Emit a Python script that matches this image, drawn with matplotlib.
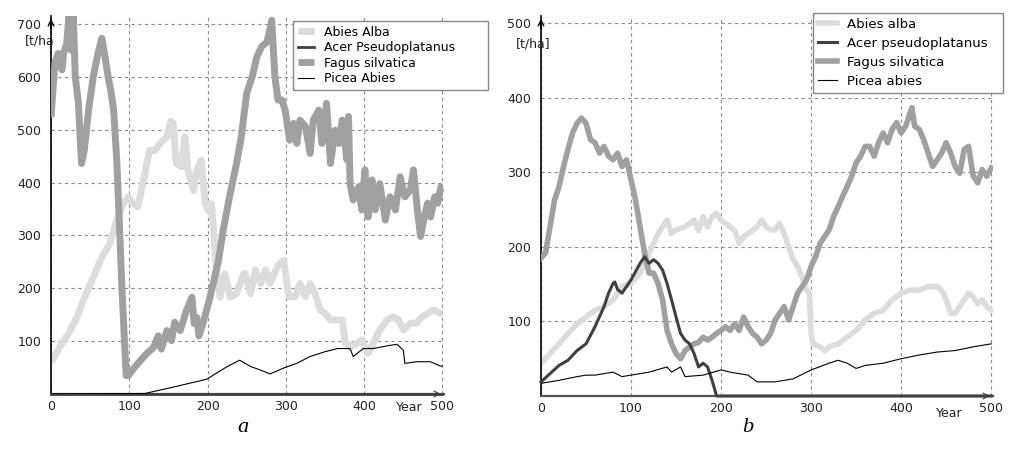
import numpy as np
import matplotlib.pyplot as plt

# ---- panel a ----
a_abies_x = [0, 11, 22, 33, 43, 54, 65, 75, 84, 92, 99, 105, 111, 118, 126, 133, 139, 148, 153, 156, 160, 167, 171, 175,
             182, 186, 192, 197, 201, 205, 209, 211, 216, 222, 229, 237, 246, 248, 255, 261, 268, 274, 280, 289, 297,
             304, 312, 318, 325, 331, 337, 344, 350, 357, 366, 372, 376, 382, 391, 397, 405, 412, 420, 429, 437, 444,
             450, 459, 467, 474, 482, 488, 497, 500]
a_abies_y = [60, 88, 114, 145, 183, 221, 259, 284, 328, 360, 373, 360, 354, 404, 461, 461, 474, 486, 516, 512, 436, 430,
             486, 423, 385, 423, 442, 360, 347, 360, 284, 240, 183, 227, 183, 190, 227, 228, 190, 235, 209, 235, 209,
             241, 253, 184, 184, 209, 184, 209, 190, 159, 153, 140, 140, 140, 96, 89, 96, 102, 77, 96, 121, 140, 146,
             140, 121, 134, 134, 146, 153, 159, 153, 152]

a_fagus_x = [0, 5, 9, 14, 16, 20, 23, 26, 28.5, 31, 35, 39, 42.5, 48, 54, 60, 65, 69, 73, 77, 80, 84, 87, 90, 93, 96,
             99, 105, 114, 122, 131, 137, 141, 148, 154, 158, 165, 173, 180, 183, 186, 189, 194, 201, 207, 214, 220,
             228, 237, 243, 250, 257, 263, 269, 276, 282, 286, 290, 295, 299, 305, 310, 314, 318, 325, 331, 335, 342,
             346, 352, 357, 363, 368, 372, 378, 380, 382, 386, 393, 397, 401, 405, 410, 414, 420, 427, 433, 440, 446,
             452, 459, 463, 468, 472, 477, 481, 485, 490, 494, 498, 500]
a_fagus_y = [524, 625, 644, 613, 644, 663, 714, 650, 714, 600, 550, 436, 461, 537, 600, 644, 673, 638, 600, 569, 537,
             442, 335, 221, 126, 35, 35, 47, 63, 76, 88, 110, 85, 120, 101, 136, 120, 158, 183, 133, 145, 110, 133,
             171, 208, 253, 310, 373, 436, 486, 569, 600, 638, 657, 666, 707, 600, 556, 556, 537, 480, 512, 474, 518,
             506, 455, 518, 537, 474, 550, 436, 499, 474, 518, 443, 525, 398, 367, 392, 348, 424, 335, 405, 348, 398,
             329, 373, 348, 411, 373, 386, 424, 348, 298, 335, 361, 335, 373, 361, 392, 392]

a_acer_x = [0, 500]
a_acer_y = [0, 0]

a_picea_x = [0, 120, 156, 199, 224, 241, 255, 268, 280, 297, 314, 331, 350, 366, 382, 386, 399, 412, 429, 442, 450,
             452, 467, 485, 497, 500]
a_picea_y = [0, 1, 13, 28, 51, 64, 52, 45, 38, 49, 58, 71, 80, 86, 86, 71, 86, 86, 91, 94, 83, 58, 61, 61, 53, 53]

# ---- panel b ----
b_abies_x = [0, 10, 20, 30, 40, 50, 60, 70, 80, 90, 100, 110, 120, 130, 140, 145, 150, 160, 170, 175, 180, 185, 190,
             195, 200, 210, 215, 220, 225, 230, 240, 245, 250, 255, 260, 265, 270, 275, 280, 285, 290, 295, 298, 300,
             302, 310, 315, 320, 330, 340, 350, 360, 370, 380, 390, 400, 410, 420, 430, 440, 445, 450, 455, 460, 465,
             470, 475, 480, 485, 490, 495, 500]
b_abies_y = [44, 57, 70, 84, 97, 106, 115, 120, 129, 147, 151, 165, 192, 218, 236, 218, 223, 227, 236, 222, 241, 227,
             241, 245, 236, 227, 222, 205, 214, 218, 227, 236, 227, 223, 223, 232, 218, 200, 183, 174, 160, 142, 138,
             84, 70, 66, 61, 66, 70, 79, 88, 102, 111, 115, 129, 138, 142, 142, 147, 147, 142, 129, 111, 111, 120, 129,
             138, 133, 124, 129, 120, 115]

b_acer_x = [0, 10, 20, 30, 40, 50, 60, 70, 75, 80, 82, 85, 90, 95, 100, 110, 115, 120, 125, 130, 135, 140, 145, 150,
            155, 160, 165, 170, 175, 180, 185, 190, 195, 500]
b_acer_y = [19, 30, 41, 48, 61, 70, 93, 120, 138, 151, 153, 143, 138, 147, 156, 178, 187, 178, 183, 178, 169, 151, 129,
            106, 84, 75, 70, 57, 39, 44, 39, 21, 0, 0]

b_fagus_x = [0, 5, 10, 15, 20, 25, 30, 35, 40, 45, 50, 55, 60, 65, 70, 75, 80, 85, 90, 95, 100, 105, 110, 115, 120,
             125, 130, 135, 140, 145, 150, 155, 160, 165, 170, 175, 180, 185, 190, 195, 200, 205, 210, 215, 220, 225,
             230, 235, 240, 245, 250, 255, 260, 265, 270, 275, 280, 285, 290, 295, 300, 305, 310, 315, 320, 325, 330,
             335, 340, 345, 350, 355, 360, 365, 370, 375, 380, 385, 390, 395, 400, 405, 410, 412, 415, 420, 425, 430,
             435, 440, 445, 450, 455, 460, 465, 470, 475, 480, 485, 490, 495, 500]
b_fagus_y = [185, 192, 227, 263, 281, 308, 331, 353, 366, 373, 366, 344, 340, 326, 335, 322, 317, 326, 308, 317, 290,
             263, 227, 192, 165, 165, 151, 129, 88, 70, 57, 50, 61, 66, 70, 72, 79, 75, 79, 84, 88, 93, 88, 97, 88,
             106, 93, 84, 79, 70, 75, 84, 102, 111, 120, 102, 120, 138, 147, 156, 174, 187, 205, 214, 223, 241, 254,
             268, 281, 295, 313, 322, 335, 335, 322, 340, 353, 340, 358, 367, 353, 362, 380, 387, 362, 358, 344, 326,
             308, 317, 326, 340, 326, 308, 299, 331, 335, 295, 286, 304, 295, 306]

b_picea_x = [0, 20, 40, 50, 60, 80, 90, 100, 120, 140, 145, 155, 160, 180, 200, 210, 230, 240, 260, 280, 300, 320, 330,
             340, 350, 360, 380, 400, 420, 440, 460, 480, 500]
b_picea_y = [17, 21, 26, 28, 28, 32, 26, 28, 32, 39, 32, 39, 26, 28, 35, 32, 28, 19, 19, 23, 35, 44, 48, 44, 37, 41,
             44, 50, 55, 59, 61, 66, 70]

labels_a = ['Abies Alba', 'Acer Pseudoplatanus', 'Fagus silvatica', 'Picea Abies']
labels_b = ['Abies alba', 'Acer pseudoplatanus', 'Fagus silvatica', 'Picea abies']

c_abies, c_acer, c_fagus, c_picea = '#dcdcdc', '#404040', '#a0a0a0', '#000000'

fig = plt.figure(figsize=(10.1, 4.5), dpi=100)
ax1 = fig.add_axes([51/1010, 1-394/450, 393/1010, 378/450])
ax2 = fig.add_axes([541/1010, 1-396/450, 452/1010, 380/450])


def style(ax, ymax, yticks):
    ax.set_xlim(0, 502)
    ax.set_ylim(0, ymax)
    ax.set_xticks([0, 100, 200, 300, 400, 500])
    ax.set_yticks(yticks)
    ax.grid(True, color='#8c8c8c', linestyle=(0, (3, 3)), linewidth=0.8)
    ax.set_axisbelow(True)
    for s in ['top', 'right']:
        ax.spines[s].set_visible(False)
    ax.spines['left'].set_color('black')
    ax.spines['left'].set_linewidth(1.2)
    ax.spines['bottom'].set_color('#555555')
    ax.spines['bottom'].set_linewidth(1.6)
    ax.tick_params(length=0, labelsize=9, colors='#222222')
    ax.tick_params(axis='y', pad=7)
    ax.tick_params(axis='x', pad=4)
    ax.annotate('', xy=(0, 1.0), xycoords='axes fraction', xytext=(0, 0.96),
                arrowprops=dict(arrowstyle='->', color='black', lw=1.0))
    ax.annotate('', xy=(1.0, 0), xycoords='axes fraction', xytext=(0.985, 0),
                arrowprops=dict(arrowstyle='->', color='#555555', lw=1.0))


style(ax1, 715, [100, 200, 300, 400, 500, 600, 700])
style(ax2, 510, [100, 200, 300, 400, 500])

ax1.plot(a_abies_x, a_abies_y, color=c_abies, lw=5, zorder=2, label=labels_a[0], solid_capstyle='butt')
ax1.plot(a_acer_x, a_acer_y, color=c_acer, lw=2, zorder=4, label=labels_a[1], clip_on=False)
ax1.plot(a_fagus_x, a_fagus_y, color=c_fagus, lw=5, zorder=3, label=labels_a[2], solid_capstyle='butt')
ax1.plot(a_picea_x, a_picea_y, color=c_picea, lw=0.8, zorder=5, label=labels_a[3])

ax2.plot(b_abies_x, b_abies_y, color=c_abies, lw=4, zorder=2, label=labels_b[0])
ax2.plot(b_acer_x, b_acer_y, color=c_acer, lw=2.2, zorder=4, label=labels_b[1], clip_on=False)
ax2.plot(b_fagus_x, b_fagus_y, color=c_fagus, lw=4, zorder=3, label=labels_b[2])
ax2.plot(b_picea_x, b_picea_y, color=c_picea, lw=0.8, zorder=5, label=labels_b[3])

leg1 = ax1.legend(loc='upper left', bbox_to_anchor=(293/1010, 1-21/450, 195/1010, 0.001),
                  bbox_transform=fig.transFigure, mode='expand',
                  fontsize=9, labelspacing=0.2, handlelength=1.3, handletextpad=0.8, borderpad=0.4,
                  fancybox=False, framealpha=1, edgecolor='#888888', borderaxespad=0)
leg2 = ax2.legend(loc='upper left', bbox_to_anchor=(813/1010, 1-13/450, 190/1010, 0.001),
                  bbox_transform=fig.transFigure, mode='expand',
                  fontsize=9.5, labelspacing=0.45, handlelength=1.4, handletextpad=0.8, borderpad=0.4,
                  fancybox=False, framealpha=1, edgecolor='#888888', borderaxespad=0)
for leg in (leg1, leg2):
    leg.get_frame().set_linewidth(1.0)
    leg.set_zorder(10)

ax1.text(-14, 668, '[t/ha', fontsize=9, ha='center', va='center', clip_on=False, color='#222222')
ax2.text(-9, 472, '[t/ha]', fontsize=9, ha='center', va='center', clip_on=False, color='#222222')
ax1.text(458, -26, 'Year', fontsize=9, ha='center', va='center', clip_on=False, color='#222222')
ax2.text(454, -23, 'Year', fontsize=9, ha='center', va='center', clip_on=False, color='#222222')

fig.text(243/1010, 1-427/450, 'a', fontsize=16, style='italic', family='Liberation Serif', ha='center', va='center')
fig.text(748/1010, 1-427/450, 'b', fontsize=16, style='italic', family='Liberation Serif', ha='center', va='center')

fig.savefig('out.png', dpi=100)
